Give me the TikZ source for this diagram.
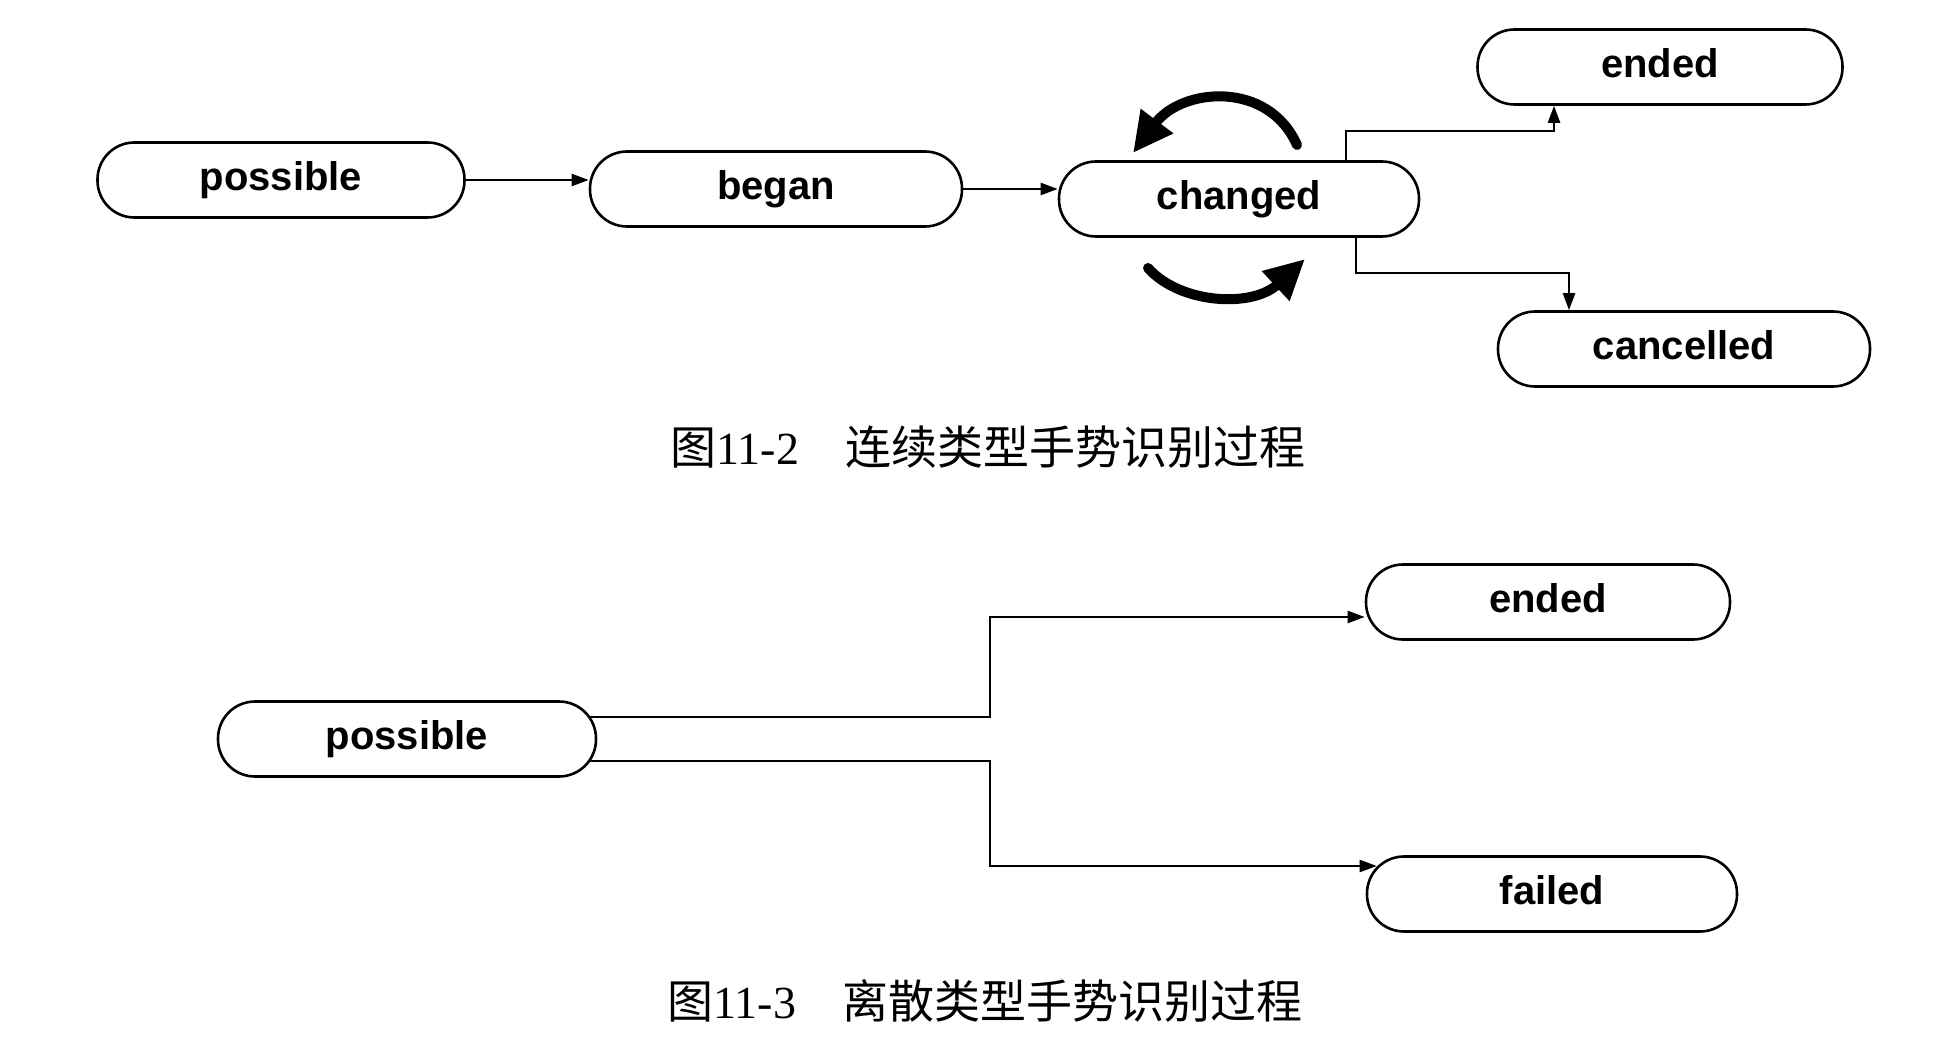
\documentclass[tikz,border=0pt]{standalone}
\usepackage{fontspec}
\setmainfont{Liberation Sans}
\newfontfamily\cjk{Noto Sans CJK SC}
\newfontfamily\numf{Liberation Serif}
\usetikzlibrary{arrows.meta,calc}
\begin{document}
\begin{tikzpicture}[x=1pt,y=-1pt,
  state/.style={draw=black,line width=2.6pt,rounded corners=37pt,minimum height=75pt,inner sep=0pt,
    font=\fontsize{40pt}{44pt}\selectfont\bfseries,text height=29pt,text depth=8pt},
  conn/.style={line width=2.4pt,-{Triangle[length=17pt,width=12pt]}},
  cyclearrow/.style={line width=10pt,line cap=round,-{Triangle[length=40pt,width=38pt]}},
  captext/.style={font=\fontsize{46pt}{52pt}\selectfont,inner sep=0pt}]
\useasboundingbox (0,0) rectangle (1952,1056);
% top diagram
\node[state,minimum width=367pt] (p1) at (281,180) {possible};
\node[state,minimum width=372pt] (b1) at (776,189) {began};
\node[state,minimum width=360pt] (c1) at (1239,199) {changed};
\node[state,minimum width=365pt] (e1) at (1660,67) {ended};
\node[state,minimum width=372pt] (x1) at (1684,349) {cancelled};
\draw[conn] (p1.east) -- (p1.east -| b1.west);
\draw[conn] (b1.east) -- (b1.east -| c1.west);
\coordinate (k1) at (1554,131);
\draw[conn] ($(c1.north)+(107,0)$) |- (k1) -- (k1 |- e1.south);
\coordinate (k2) at (1569,273);
\draw[conn] ($(c1.south)+(117,0)$) |- (k2) -- (k2 |- x1.north);
\coordinate (l1s) at (1297,145);
\coordinate (l1e) at (1133,153);
\draw[cyclearrow] (l1s) .. controls (1268,80) and (1182,88) .. (l1e);
\coordinate (l2s) at (1148,268);
\coordinate (l2e) at (1305,259);
\draw[cyclearrow] (l2s) .. controls (1180,304) and (1252,308) .. (l2e);
\node[captext] (cap1) at (988,447) {{\cjk 图}{\numf 11-2}\hspace{1em}{\cjk 连续类型手势识别过程}};
% bottom diagram
\node[state,minimum width=378pt] (p2) at (407,739) {possible};
\node[state,minimum width=364pt] (e3) at (1548,602) {ended};
\node[state,minimum width=370pt] (f3) at (1552,894) {failed};
\coordinate (k3) at (990,617);
\draw[conn] ($(p2.east)+(-7,-22)$) -| (k3) -- (k3 -| e3.west);
\coordinate (k4) at (990,866);
\draw[conn] ($(p2.east)+(-7,22)$) -| (k4) -- ($(k4 -| f3.west)+(11,0)$);
\node[captext] (cap2) at (985,1001) {{\cjk 图}{\numf 11-3}\hspace{1em}{\cjk 离散类型手势识别过程}};
\end{tikzpicture}
\end{document}
